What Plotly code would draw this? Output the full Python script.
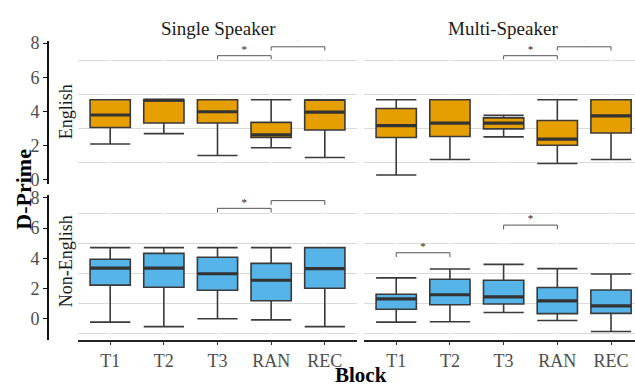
import plotly.graph_objects as go

blocks = ["T1", "T2", "T3", "RAN", "REC"]
block_pos = [1, 2, 3, 4, 5]

# English, Single Speaker
eng_single_low = [2.09, 2.70, 1.42, 1.87, 1.30]
eng_single_q1 = [3.06, 3.32, 3.32, 2.47, 2.91]
eng_single_med = [3.79, 4.66, 3.98, 2.63, 3.96]
eng_single_q3 = [4.68, 4.68, 4.68, 3.36, 4.66]
eng_single_high = [4.68, 4.68, 4.68, 4.68, 4.68]

# English, Multi-Speaker
eng_multi_low = [0.28, 1.19, 2.51, 0.95, 1.19]
eng_multi_q1 = [2.47, 2.53, 2.98, 2.02, 2.74]
eng_multi_med = [3.17, 3.32, 3.32, 2.38, 3.74]
eng_multi_q3 = [4.17, 4.68, 3.62, 3.47, 4.68]
eng_multi_high = [4.68, 4.68, 3.77, 4.68, 4.68]

# Non-English, Single Speaker
non_single_low = [-0.22, -0.52, 0.00, -0.07, -0.52]
non_single_q1 = [2.23, 2.09, 1.89, 1.19, 2.02]
non_single_med = [3.35, 3.35, 2.98, 2.55, 3.32]
non_single_q3 = [3.94, 4.33, 4.07, 3.67, 4.71]
non_single_high = [4.71, 4.71, 4.71, 4.71, 4.71]

# Non-English, Multi-Speaker
non_multi_low = [-0.22, -0.20, 0.42, -0.11, -0.84]
non_multi_q1 = [0.63, 0.93, 0.98, 0.34, 0.36]
non_multi_med = [1.32, 1.59, 1.45, 1.19, 0.85]
non_multi_q3 = [1.62, 2.62, 2.55, 2.07, 1.91]
non_multi_high = [2.71, 3.30, 3.60, 3.32, 2.96]

# significance brackets: (panel, from block, to block, height)
sig_panel = ["ES", "ES", "EM", "EM", "NS", "NS", "NM", "NM"]
sig_from = ["T3", "RAN", "T3", "RAN", "T3", "RAN", "T1", "T3"]
sig_to = ["RAN", "REC", "RAN", "REC", "RAN", "REC", "T2", "RAN"]
sig_y = [7.26, 7.78, 7.26, 7.78, 7.31, 7.82, 4.37, 6.20]
sig_label = ["*"] * 8

ORANGE = "#E69F00"
BLUE = "#56B4E9"
EDGE = "#3a3a3a"
SERIF = "Liberation Serif"

W, H = 635, 389
def px_x(p):
    return p / W
def px_y(p):
    return 1 - p / H

panels = {
    "ES": dict(xa="x", ya="y", color=ORANGE, low=eng_single_low, q1=eng_single_q1,
               med=eng_single_med, q3=eng_single_q3, high=eng_single_high),
    "EM": dict(xa="x2", ya="y", color=ORANGE, low=eng_multi_low, q1=eng_multi_q1,
               med=eng_multi_med, q3=eng_multi_q3, high=eng_multi_high),
    "NS": dict(xa="x3", ya="y2", color=BLUE, low=non_single_low, q1=non_single_q1,
               med=non_single_med, q3=non_single_q3, high=non_single_high),
    "NM": dict(xa="x4", ya="y2", color=BLUE, low=non_multi_low, q1=non_multi_q1,
               med=non_multi_med, q3=non_multi_q3, high=non_multi_high),
}

BW = 0.75
fig = go.Figure()
for key, p in panels.items():
    fig.add_trace(go.Box(
        x=block_pos, q1=p["q1"], median=p["med"], q3=p["q3"],
        lowerfence=p["low"], upperfence=p["high"],
        width=BW, whiskerwidth=1.0, boxpoints=False,
        fillcolor=p["color"], line=dict(color=EDGE, width=1.6),
        xaxis=p["xa"], yaxis=p["ya"], showlegend=False, hoverinfo="skip"))
    mx, my = [], []
    for xi, m in zip(block_pos, p["med"]):
        mx += [xi - BW / 2, xi + BW / 2, None]
        my += [m, m, None]
    fig.add_trace(go.Scatter(x=mx, y=my, mode="lines",
                             line=dict(color="#333333", width=3.2),
                             xaxis=p["xa"], yaxis=p["ya"], showlegend=False,
                             hoverinfo="skip"))

for pan, a, b, yv, lab in zip(sig_panel, sig_from, sig_to, sig_y, sig_label):
    p = panels[pan]
    x1 = block_pos[blocks.index(a)]
    x2 = block_pos[blocks.index(b)]
    drop = 0.22 if p["ya"] == "y" else 0.28
    fig.add_trace(go.Scatter(x=[x1, x1, x2, x2], y=[yv - drop, yv, yv, yv - drop],
                             mode="lines", line=dict(color="#555555", width=1),
                             xaxis=p["xa"], yaxis=p["ya"], showlegend=False,
                             hoverinfo="skip"))
    fig.add_trace(go.Scatter(x=[(x1 + x2) / 2], y=[yv], mode="text", text=[lab],
                             textposition="top center",
                             textfont=dict(size=11, color="#222222", family=SERIF),
                             xaxis=p["xa"], yaxis=p["ya"], showlegend=False,
                             hoverinfo="skip"))

left_dom = [px_x(78), px_x(357)]
right_dom = [px_x(364), 1.0]
top_dom = [px_y(183), px_y(35)]
bot_dom = [px_y(344), px_y(195)]

xcommon = dict(tickvals=block_pos, ticktext=blocks, showgrid=True,
               gridcolor="white", gridwidth=1.5, zeroline=False,
               tickfont=dict(family=SERIF, size=18, color="#4d4d4d"))
xbottom = dict(showline=True, linecolor="#222222", linewidth=1.6,
               ticks="outside", ticklen=4, tickcolor="#333333", tickwidth=1.2)

ycommon = dict(anchor="free", position=px_x(48), showline=True, linecolor="#111111",
               linewidth=1.6, ticks="outside", ticklen=4, tickcolor="#111111",
               tickwidth=1.2, tickvals=[0, 2, 4, 6, 8], showgrid=False,
               zeroline=False,
               tickfont=dict(family=SERIF, size=18, color="#4d4d4d"))

fig.update_layout(
    width=W, height=H, margin=dict(l=0, r=0, t=0, b=0),
    paper_bgcolor="white", plot_bgcolor="white",
    xaxis=dict(domain=left_dom, anchor="y", range=[0.4, 5.6], showticklabels=False,
               **xcommon),
    xaxis2=dict(domain=right_dom, anchor="y", range=[0.4, 0.4 + 271 / 53.7],
                showticklabels=False, **xcommon),
    xaxis3=dict(domain=left_dom, anchor="y2", range=[0.4, 5.6], **xcommon, **xbottom),
    xaxis4=dict(domain=right_dom, anchor="y2", range=[0.4, 0.4 + 271 / 53.7],
                **xcommon, **xbottom),
    yaxis=dict(domain=top_dom, range=[-0.24, 8.13],
               minor=dict(tickvals=[1, 3, 5, 7], showgrid=True, gridcolor="#dadada",
                          gridwidth=1.2, ticks=""),
               **ycommon),
    yaxis2=dict(domain=bot_dom, range=[-1.37, 8.16],
                minor=dict(tickvals=[-1, 1, 3, 5, 7], showgrid=True,
                           gridcolor="#dadada", gridwidth=1.2, ticks=""),
                **ycommon),
)

ann_font = dict(family=SERIF, size=19, color="#1a1a1a")
annotations = [
    dict(text="Single Speaker", x=px_x(218), y=px_y(22), font=ann_font),
    dict(text="Multi-Speaker", x=px_x(503), y=px_y(22), font=ann_font),
    dict(text="English", x=px_x(66), y=px_y(109), textangle=-90,
         font=dict(family=SERIF, size=18, color="#1a1a1a")),
    dict(text="Non-English", x=px_x(66), y=px_y(263), textangle=-90,
         font=dict(family=SERIF, size=18, color="#1a1a1a")),
    dict(text="<b>D-Prime</b>", x=px_x(24), y=px_y(189), textangle=-90,
         font=dict(family=SERIF, size=22, color="#000000")),
    dict(text="<b>Block</b>", x=px_x(361), y=px_y(381),
         font=dict(family=SERIF, size=21, color="#000000")),
]
for a in annotations:
    a.update(xref="paper", yref="paper", showarrow=False, xanchor="center",
             yanchor="middle")
fig.update_layout(annotations=annotations)

fig.write_html("out.html", config=dict(displayModeBar=False),
               post_script="document.body.style.margin='0';document.body.style.overflow='hidden';")
